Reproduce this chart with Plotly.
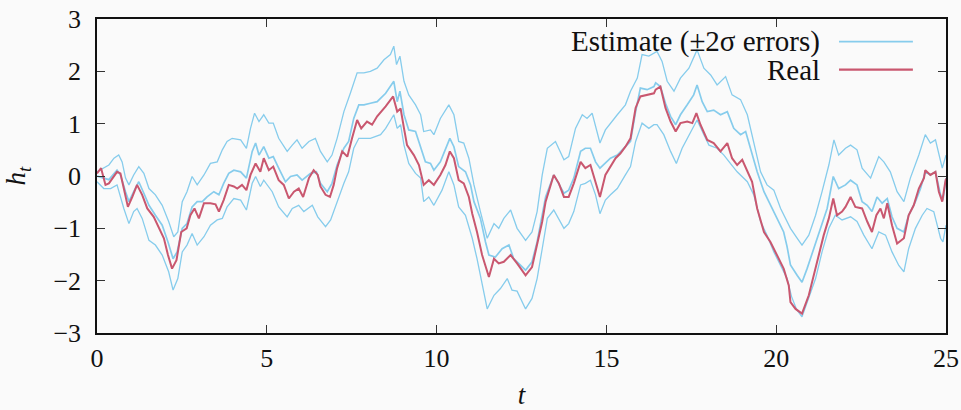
import plotly.graph_objects as go

# ---- data ----
real_t = [0.00, 0.12, 0.25, 0.35, 0.59, 0.69, 0.79, 0.91, 1.04, 1.18, 1.33, 1.48, 1.67, 1.82, 1.97, 2.09, 2.21, 2.34, 2.48, 2.64,
          2.75, 2.87, 3.00, 3.15, 3.34, 3.49, 3.59, 3.73, 3.88, 4.03, 4.13, 4.27, 4.40, 4.52, 4.67, 4.81, 4.91, 5.06, 5.19, 5.35,
          5.50, 5.65, 5.80, 5.94, 6.07, 6.24, 6.38, 6.50, 6.58, 6.73, 6.86, 6.97, 7.07, 7.22, 7.37, 7.51, 7.66, 7.78, 7.95, 8.10,
          8.25, 8.50, 8.72, 8.84, 8.94, 9.04, 9.13, 9.33, 9.48, 9.62, 9.77, 9.92, 10.11, 10.26, 10.39, 10.51, 10.65, 10.80, 10.95, 11.05,
          11.19, 11.34, 11.54, 11.69, 11.83, 11.98, 12.18, 12.37, 12.62, 12.81, 12.96, 13.11, 13.21, 13.35, 13.45, 13.60, 13.75, 13.89, 14.04, 14.24,
          14.38, 14.53, 14.68, 14.81, 14.97, 15.12, 15.27, 15.41, 15.56, 15.71, 15.86, 16.00, 16.20, 16.40, 16.45, 16.59, 16.74, 16.89, 17.04, 17.18,
          17.38, 17.53, 17.65, 17.77, 17.97, 18.16, 18.36, 18.56, 18.70, 18.85, 19.00, 19.15, 19.29, 19.44, 19.64, 19.83, 20.03, 20.22, 20.37, 20.42,
          20.57, 20.76, 20.96, 21.11, 21.25, 21.40, 21.55, 21.68, 21.79, 21.94, 22.04, 22.19, 22.33, 22.53, 22.68, 22.82, 22.95, 23.07, 23.17, 23.27,
          23.41, 23.56, 23.76, 23.90, 24.05, 24.20, 24.35, 24.39, 24.54, 24.69, 24.79, 24.89, 24.98, 25.00]
real_h = [0.05, 0.15, -0.17, -0.14, 0.08, 0.05, -0.24, -0.59, -0.40, -0.17, -0.36, -0.62, -0.78, -1.00, -1.19, -1.51, -1.77, -1.61, -1.07, -1.00,
          -0.75, -0.62, -0.81, -0.52, -0.52, -0.54, -0.68, -0.46, -0.17, -0.20, -0.24, -0.17, -0.27, 0.02, 0.24, 0.08, 0.34, 0.11, 0.18, -0.08,
          -0.17, -0.43, -0.30, -0.24, -0.40, -0.04, 0.11, 0.02, -0.20, -0.36, -0.40, -0.17, 0.15, 0.47, 0.37, 0.72, 1.07, 0.91, 1.04, 0.98,
          1.14, 1.33, 1.52, 1.23, 1.29, 0.91, 0.59, 0.40, 0.21, -0.17, -0.08, -0.17, 0.02, 0.21, 0.47, 0.34, -0.08, -0.14, -0.40, -0.72,
          -1.07, -1.51, -1.93, -1.58, -1.67, -1.64, -1.51, -1.67, -1.90, -1.74, -1.32, -0.87, -0.49, -0.17, 0.02, -0.14, -0.40, -0.40, -0.14, 0.27,
          0.15, 0.21, -0.11, -0.40, 0.02, 0.18, 0.34, 0.43, 0.56, 0.72, 1.30, 1.52, 1.55, 1.58, 1.65, 1.71, 1.30, 1.04, 0.85, 1.01,
          1.04, 1.01, 1.20, 0.98, 0.69, 0.63, 0.47, 0.63, 0.34, 0.21, 0.31, 0.08, -0.11, -0.62, -1.07, -1.26, -1.51, -1.77, -2.09, -2.41,
          -2.54, -2.63, -2.28, -1.90, -1.51, -1.13, -0.81, -0.43, -0.75, -0.68, -0.59, -0.40, -0.59, -0.62, -0.87, -1.07, -0.75, -0.62, -0.81, -0.52,
          -0.94, -1.29, -1.19, -0.75, -0.56, -0.24, -0.04, 0.11, 0.02, 0.08, -0.30, -0.49, -0.11, -0.05]

mean_t = [0.00, 0.20, 0.35, 0.59, 0.69, 0.84, 0.94, 1.08, 1.23, 1.38, 1.53, 1.72, 1.92, 2.09, 2.24, 2.36, 2.51, 2.65, 2.80, 2.95,
          3.10, 3.24, 3.44, 3.59, 3.73, 3.88, 4.03, 4.23, 4.40, 4.57, 4.67, 4.77, 4.91, 5.06, 5.19, 5.35, 5.55, 5.70, 5.89, 6.04,
          6.29, 6.46, 6.58, 6.78, 6.92, 7.07, 7.27, 7.41, 7.56, 7.71, 7.86, 8.05, 8.25, 8.50, 8.74, 8.84, 8.92, 9.04, 9.18, 9.38,
          9.53, 9.67, 9.82, 9.92, 10.11, 10.26, 10.39, 10.51, 10.65, 10.85, 11.00, 11.10, 11.29, 11.44, 11.54, 11.73, 11.93, 12.13, 12.27, 12.62,
          12.81, 12.96, 13.11, 13.21, 13.45, 13.60, 13.75, 13.89, 14.04, 14.24, 14.38, 14.53, 14.68, 14.81, 14.97, 15.12, 15.32, 15.51, 15.71, 15.86,
          16.00, 16.20, 16.40, 16.45, 16.59, 16.74, 16.89, 17.04, 17.18, 17.38, 17.57, 17.67, 17.82, 17.97, 18.16, 18.36, 18.56, 18.75, 18.95, 19.10,
          19.24, 19.44, 19.64, 19.83, 20.03, 20.22, 20.32, 20.42, 20.62, 20.76, 20.91, 21.11, 21.30, 21.50, 21.68, 21.84, 22.04, 22.19, 22.38, 22.53,
          22.68, 22.82, 22.97, 23.12, 23.27, 23.41, 23.56, 23.76, 23.90, 24.10, 24.25, 24.39, 24.54, 24.69, 24.84, 24.91, 25.00]
mean_h = [0.00, -0.04, -0.07, 0.11, 0.02, -0.30, -0.49, -0.30, -0.11, -0.33, -0.56, -0.75, -0.94, -1.26, -1.58, -1.45, -1.00, -0.91, -0.59, -0.49,
          -0.49, -0.40, -0.30, -0.36, -0.14, 0.05, 0.11, 0.08, -0.04, 0.47, 0.63, 0.40, 0.56, 0.34, 0.37, 0.15, -0.11, -0.01, 0.02, -0.08,
          0.05, 0.08, -0.14, -0.30, -0.14, 0.21, 0.53, 0.66, 1.10, 1.36, 1.36, 1.39, 1.42, 1.58, 1.81, 1.42, 1.62, 1.17, 0.88, 0.85,
          0.56, 0.27, 0.24, 0.11, 0.27, 0.50, 0.72, 0.56, 0.18, 0.08, -0.17, -0.49, -0.81, -1.26, -1.51, -1.55, -1.39, -1.32, -1.58, -1.80,
          -1.64, -1.26, -0.75, -0.40, 0.02, -0.17, -0.33, -0.27, -0.04, 0.47, 0.53, 0.53, 0.27, 0.15, 0.24, 0.34, 0.40, 0.53, 0.66, 1.23,
          1.68, 1.65, 1.71, 1.78, 1.71, 1.39, 1.14, 0.98, 1.17, 1.36, 1.55, 1.74, 1.42, 1.23, 1.26, 1.17, 1.23, 0.91, 0.79, 0.85,
          0.53, 0.08, -0.30, -0.56, -0.81, -1.07, -1.35, -1.70, -1.90, -2.03, -1.77, -1.39, -1.00, -0.62, -0.01, -0.24, -0.17, -0.08, -0.17, -0.49,
          -0.56, -0.68, -0.40, -0.52, -0.43, -0.78, -1.00, -1.07, -0.75, -0.49, -0.24, 0.08, 0.02, 0.08, -0.36, -0.46, -0.04]

upper_t = [0.00, 0.20, 0.35, 0.50, 0.64, 0.74, 0.84, 0.94, 1.08, 1.23, 1.38, 1.53, 1.72, 1.92, 2.11, 2.26, 2.38, 2.51, 2.65, 2.80,
           2.95, 3.15, 3.34, 3.54, 3.69, 3.83, 3.98, 4.23, 4.40, 4.52, 4.64, 4.77, 4.91, 5.06, 5.19, 5.35, 5.60, 5.75, 5.89, 6.04,
           6.24, 6.43, 6.58, 6.78, 6.92, 7.07, 7.27, 7.46, 7.66, 7.86, 8.05, 8.25, 8.45, 8.64, 8.74, 8.82, 8.92, 9.04, 9.18, 9.38,
           9.53, 9.62, 9.82, 9.92, 10.11, 10.36, 10.51, 10.65, 10.80, 10.95, 11.10, 11.29, 11.49, 11.69, 11.83, 11.98, 12.18, 12.37, 12.62, 12.81,
           12.96, 13.11, 13.26, 13.50, 13.75, 13.89, 14.09, 14.29, 14.43, 14.58, 14.81, 14.97, 15.12, 15.32, 15.56, 15.71, 15.91, 16.05, 16.25, 16.40,
           16.49, 16.64, 16.79, 16.99, 17.18, 17.43, 17.67, 17.87, 18.07, 18.26, 18.51, 18.70, 18.95, 19.15, 19.34, 19.54, 19.73, 19.93, 20.13, 20.32,
           20.42, 20.62, 20.76, 20.96, 21.16, 21.35, 21.55, 21.70, 21.84, 22.04, 22.19, 22.38, 22.53, 22.78, 23.02, 23.17, 23.36, 23.56, 23.76, 23.95,
           24.20, 24.39, 24.54, 24.69, 24.89, 25.00]
upper_h = [0.08, 0.15, 0.21, 0.34, 0.40, 0.27, -0.04, -0.17, 0.02, 0.18, 0.05, -0.24, -0.36, -0.56, -0.87, -1.16, -1.07, -0.49, -0.30, -0.01,
           -0.17, 0.02, 0.24, 0.27, 0.50, 0.66, 0.72, 0.69, 0.53, 0.91, 1.20, 1.04, 1.17, 1.01, 1.01, 0.72, 0.47, 0.59, 0.69, 0.53,
           0.66, 0.72, 0.47, 0.27, 0.40, 0.72, 1.23, 1.58, 1.97, 1.97, 2.00, 2.06, 2.22, 2.32, 2.48, 2.13, 2.29, 1.81, 1.55, 1.36,
           1.17, 0.85, 0.88, 0.79, 1.10, 1.36, 1.17, 0.66, 0.63, 0.34, -0.17, -0.68, -1.19, -0.91, -1.00, -0.81, -0.65, -1.00, -1.23, -1.07,
           -0.68, 0.02, 0.53, 0.66, 0.31, 0.37, 0.91, 1.17, 1.10, 1.20, 0.63, 0.88, 1.01, 1.17, 1.36, 1.62, 1.87, 2.32, 2.29, 2.35,
           2.38, 2.19, 1.81, 1.62, 1.87, 2.06, 2.41, 2.06, 1.93, 1.74, 1.90, 1.55, 1.46, 1.17, 0.66, 0.08, -0.17, -0.27, -0.62, -0.87,
           -1.00, -1.19, -1.32, -1.13, -0.75, -0.30, 0.21, 0.69, 0.40, 0.53, 0.59, 0.50, 0.15, -0.04, 0.37, 0.27, 0.08, -0.30, -0.49, -0.04,
           0.40, 0.79, 0.63, 0.69, 0.15, 0.40]

lower_t = [0.00, 0.20, 0.40, 0.59, 0.79, 0.94, 1.08, 1.18, 1.33, 1.53, 1.72, 1.92, 2.11, 2.24, 2.38, 2.51, 2.65, 2.80, 2.95, 3.15,
           3.34, 3.54, 3.69, 3.83, 4.03, 4.23, 4.40, 4.57, 4.67, 4.81, 4.91, 5.16, 5.35, 5.60, 5.75, 5.94, 6.09, 6.34, 6.50, 6.73,
           6.88, 7.07, 7.27, 7.41, 7.56, 7.71, 7.86, 8.05, 8.35, 8.50, 8.74, 8.84, 8.94, 9.04, 9.18, 9.38, 9.53, 9.62, 9.77, 9.92,
           10.16, 10.36, 10.51, 10.65, 10.85, 11.05, 11.19, 11.34, 11.49, 11.69, 11.88, 12.08, 12.22, 12.37, 12.62, 12.81, 12.96, 13.11, 13.26, 13.45,
           13.65, 13.75, 13.89, 14.04, 14.24, 14.38, 14.53, 14.68, 14.81, 14.97, 15.12, 15.32, 15.56, 15.71, 15.86, 16.05, 16.25, 16.40, 16.49, 16.69,
           16.89, 17.06, 17.23, 17.43, 17.67, 17.87, 18.02, 18.26, 18.46, 18.65, 18.85, 19.15, 19.34, 19.54, 19.73, 19.93, 20.13, 20.32, 20.45, 20.60,
           20.76, 20.96, 21.16, 21.35, 21.55, 21.74, 21.94, 22.19, 22.38, 22.58, 22.82, 23.02, 23.22, 23.41, 23.61, 23.76, 23.90, 24.10, 24.30, 24.44,
           24.64, 24.84, 24.91, 25.00]
lower_h = [-0.11, -0.24, -0.24, -0.17, -0.62, -0.91, -0.68, -0.62, -0.81, -1.23, -1.32, -1.51, -1.83, -2.18, -1.96, -1.45, -1.32, -1.10, -1.32, -1.16,
           -0.94, -0.84, -0.81, -0.59, -0.43, -0.46, -0.65, -0.14, -0.01, -0.20, -0.08, -0.30, -0.59, -0.78, -0.62, -0.56, -0.68, -0.56, -0.78, -0.97,
           -0.84, -0.49, -0.14, 0.08, 0.53, 0.72, 0.72, 0.72, 0.79, 0.91, 1.17, 0.91, 0.98, 0.59, 0.24, 0.05, -0.04, -0.49, -0.40, -0.56,
           -0.27, 0.08, -0.17, -0.59, -0.75, -1.19, -1.58, -2.09, -2.54, -2.28, -2.15, -1.96, -2.18, -2.20, -2.54, -2.34, -1.96, -1.39, -0.81, -0.65,
           -0.87, -1.00, -0.91, -0.68, -0.17, -0.14, -0.08, -0.36, -0.72, -0.46, -0.36, -0.24, 0.02, 0.18, 0.66, 1.01, 0.91, 0.98, 0.98, 0.79,
           0.47, 0.24, 0.53, 0.79, 1.07, 0.79, 0.59, 0.53, 0.40, 0.24, 0.08, -0.11, -0.36, -0.87, -1.13, -1.45, -1.71, -1.96, -2.30, -2.55,
           -2.69, -2.34, -1.96, -1.45, -1.00, -0.75, -0.84, -0.78, -0.87, -1.13, -1.39, -1.07, -1.13, -1.45, -1.71, -1.83, -1.39, -1.00, -0.75, -0.62,
           -0.68, -1.19, -1.26, -0.94]

x_ticks = [0, 5, 10, 15, 20, 25]
y_ticks = [-3, -2, -1, 0, 1, 2, 3]
y_tick_text = ["\u22123", "\u22122", "\u22121", "0", "1", "2", "3"]
legend_labels = ["Estimate (\u00b12\u03c3 errors)", "Real"]

BLUE = "#86ccec"
RED = "#c9576f"
BG = "#fafafa"
FONT = "Liberation Serif"
TXT = "#111111"

fig = go.Figure()
fig.add_trace(go.Scatter(x=upper_t, y=upper_h, mode="lines", line=dict(color=BLUE, width=1.3), showlegend=False))
fig.add_trace(go.Scatter(x=lower_t, y=lower_h, mode="lines", line=dict(color=BLUE, width=1.3), showlegend=False))
fig.add_trace(go.Scatter(x=mean_t, y=mean_h, mode="lines", line=dict(color=BLUE, width=1.7), showlegend=False))
fig.add_trace(go.Scatter(x=real_t, y=real_h, mode="lines", line=dict(color=RED, width=2.0), showlegend=False))

# legend drawn as text + sample lines (text on the left, line on the right)
legend_colors = [BLUE, RED]
legend_y = [0.928, 0.839]
for lab, col, ly in zip(legend_labels, legend_colors, legend_y):
    fig.add_annotation(x=0.854, y=ly, xref="paper", yref="paper", text=lab, showarrow=False,
                       xanchor="right", yanchor="middle", font=dict(family=FONT, size=29, color=TXT))
    fig.add_shape(type="line", xref="paper", yref="paper", x0=0.874, x1=0.961, y0=ly, y1=ly,
                  line=dict(color=col, width=1.6 if col == BLUE else 2.2))

axis_common = dict(showgrid=False, zeroline=False, showline=True, linecolor=TXT, linewidth=1.5,
                   mirror="ticks", ticks="inside", ticklen=8, tickwidth=1.2, tickcolor="#333333",
                   automargin=False, tickfont=dict(family=FONT, size=26, color=TXT))

fig.update_xaxes(range=[0, 25], tickvals=x_ticks, ticktext=[str(v) for v in x_ticks],
                 title=dict(text="<i>t</i>", font=dict(family=FONT, size=27, color=TXT), standoff=28),
                 ticklabelstandoff=1, **axis_common)
fig.update_yaxes(range=[-3, 3], tickvals=y_ticks, ticktext=y_tick_text,
                 title=dict(text="<i>h<sub>t</sub></i>", font=dict(family=FONT, size=27, color=TXT), standoff=20),
                 ticklabelstandoff=9, **axis_common)

fig.update_layout(width=961, height=410, margin=dict(l=97, r=15, t=19, b=77),
                  paper_bgcolor=BG, plot_bgcolor=BG, showlegend=False)

fig.write_html("out.html")
